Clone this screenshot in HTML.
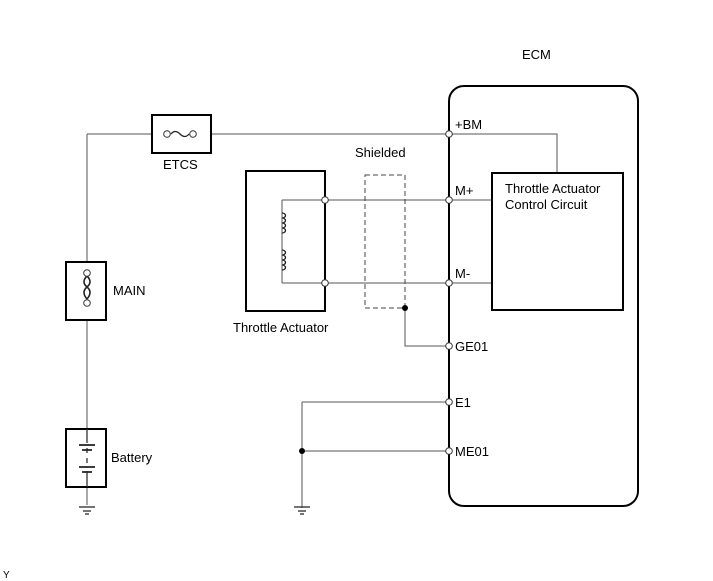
<!DOCTYPE html>
<html><head><style>body{margin:0;background:#fff}svg{display:block}text{font-family:"Liberation Sans",sans-serif;font-size:13px;fill:#000}</style></head><body>
<svg width="713" height="581" viewBox="0 0 713 581">
<g fill="none" stroke="#555" stroke-width="1">
<path d="M87 134H449M87 134V505"/>
<path d="M449 134H557V173"/>
<path d="M282 200H449M282 283H449M282 200V283"/>
<path d="M449 200H492M449 283H492"/>
<path d="M405 308V346H449"/>
<path d="M302 402H449M302 402V508M302 451H449"/>
<rect x="365" y="175" width="40" height="133" stroke-dasharray="5,3" stroke="#444"/>
</g>
<g fill="none" stroke="#000" stroke-width="2">
<rect x="449" y="86" width="189" height="420" rx="15"/>
<rect x="152" y="115" width="59" height="38" fill="#fff"/>
<rect x="246" y="171" width="79" height="140"/>
<rect x="492" y="173" width="131" height="137" fill="#fff"/>
<rect x="66" y="262" width="40" height="58" fill="#fff"/>
<rect x="66" y="429" width="40" height="58" fill="#fff"/>
</g>
<g fill="none" stroke="#222" stroke-width="1.3">
<path d="M171 134q4-5 9 0t9 0"/>
<path d="M87 276q-6 6 0 11t0 12M87 276q6 6 0 11t0 12" stroke-width="1.6"/>
<path d="M282 213a3.5 2.5 0 1 1 0 5a3.5 2.5 0 1 1 0 5a3.5 2.5 0 1 1 0 5a3.5 2.5 0 1 1 0 5"/>
<path d="M282 250a3.5 2.5 0 1 1 0 5a3.5 2.5 0 1 1 0 5a3.5 2.5 0 1 1 0 5a3.5 2.5 0 1 1 0 5"/>
<path d="M87 429V443M87 448V453M87 458V463M87 471V487" stroke="#333"/>
<path d="M79 445H95M82 450H92M79 467H95M82 472H92" stroke-width="1.8"/>
<path d="M79 507H95M83 511H91M85 514H89"/>
<path d="M294 507H310M298 511H306M300 514H304"/>
</g>
<g fill="#fff" stroke="#333" stroke-width="1">
<circle cx="167" cy="134" r="3.3"/><circle cx="193" cy="134" r="3.3"/>
<circle cx="87" cy="273" r="3.3"/><circle cx="87" cy="303" r="3.3"/>
<circle cx="325" cy="200" r="3.3"/><circle cx="325" cy="283" r="3.3"/>
<circle cx="449" cy="134" r="3.3"/><circle cx="449" cy="200" r="3.3"/><circle cx="449" cy="283" r="3.3"/>
<circle cx="449" cy="346" r="3.3"/><circle cx="449" cy="402" r="3.3"/><circle cx="449" cy="451" r="3.3"/>
</g>
<circle cx="405" cy="308" r="3" fill="#000"/><circle cx="302" cy="451" r="3" fill="#000"/>
<text x="522" y="59">ECM</text>
<text x="455" y="129">+BM</text>
<text x="355" y="157">Shielded</text>
<text x="455" y="195">M+</text>
<text x="455" y="278">M-</text>
<text x="455" y="351">GE01</text>
<text x="455" y="407">E1</text>
<text x="455" y="456">ME01</text>
<text x="505" y="193">Throttle Actuator</text>
<text x="505" y="209">Control Circuit</text>
<text x="163" y="169">ETCS</text>
<text x="113" y="295">MAIN</text>
<text x="111" y="462">Battery</text>
<text x="233" y="332">Throttle Actuator</text>
<text x="3" y="578" style="font-size:10px">Y</text>
</svg>
</body></html>
